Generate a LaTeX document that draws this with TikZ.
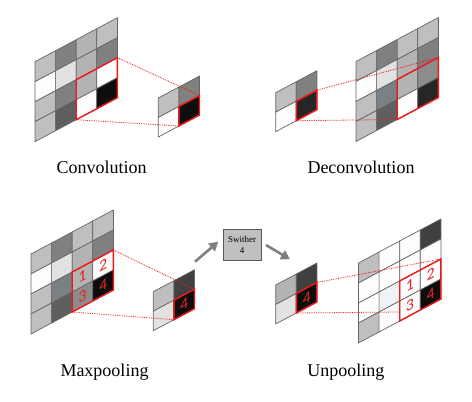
\documentclass[tikz,border=0pt]{standalone}
\usepackage{fontspec}
\setmainfont{Liberation Serif}
\newfontfamily\digfont{Carlito}
\usetikzlibrary{arrows.meta,calc}
\definecolor{lg}{HTML}{BFBFBF}
\definecolor{lgb}{HTML}{B3B3B3}
\definecolor{mg}{HTML}{808080}
\definecolor{mgb}{HTML}{8C8C8C}
\definecolor{vl}{HTML}{E2E2E2}
\definecolor{gb}{HTML}{7A8185}
\definecolor{dg}{HTML}{5F5F5F}
\definecolor{dk}{HTML}{404040}
\definecolor{dkk}{HTML}{262626}
\definecolor{bk}{HTML}{0D0D0D}
\definecolor{wh}{HTML}{FDFDFD}
\definecolor{fa}{HTML}{EEF3F8}
\definecolor{gridc}{HTML}{666666}
\definecolor{boxred}{HTML}{F01818}
\definecolor{digred}{HTML}{E02828}
\definecolor{arrgray}{HTML}{808080}
\definecolor{swfill}{HTML}{C0C0C0}
\definecolor{swline}{HTML}{595959}
\def\gw{20.6}
\def\gs{11}
\newcommand\mkgrid[6]{%
  \foreach \i in {0,...,#5}{\foreach \j in {0,...,#6}{%
    \coordinate (#1-\i-\j) at ({#2+\i*\gw},{#3+\j*#4-\i*\gs});}}}
\newcommand\cells[2]{%
  \foreach \i/\j/\c in {#2}{%
    \pgfmathtruncatemacro\ii{\i+1}\pgfmathtruncatemacro\jj{\j+1}%
    \filldraw[cell, fill=\c] (#1-\i-\j) -- (#1-\ii-\j) -- (#1-\ii-\jj) -- (#1-\i-\jj) -- cycle;}}
\newcommand\digits[2]{%
  \foreach \i/\j/\t in {#2}{%
    \pgfmathtruncatemacro\ii{\i+1}\pgfmathtruncatemacro\jj{\j+1}%
    \coordinate (#1-c-\i-\j) at ($(#1-\i-\j)!0.5!(#1-\ii-\jj)$);
    \begin{scope}[shift={(#1-c-\i-\j)}]
      \node[dig, yslant=0.534] (#1-d-\i-\j) at (0,0) {\t};
    \end{scope}}}
\newcommand\rbox[5]{% name i0 j0 i1 j1
  \draw[redbox] (#1-#2-#3) -- (#1-#4-#3) -- (#1-#4-#5) -- (#1-#2-#5) -- cycle;}
\tikzset{
  cell/.style={draw=gridc, line width=0.7pt, line join=round},
  redbox/.style={draw=boxred, line width=1.4pt, line join=miter},
  conn/.style={draw=boxred, densely dotted, line width=0.8pt},
  dig/.style={text=digred, font=\digfont\fontsize{16}{16}\selectfont, inner sep=0pt},
  captxt/.style={font=\fontsize{18}{20}\selectfont, anchor=base, inner sep=0pt},
  swbox/.style={draw=swline, fill=swfill, line width=0.8pt, minimum width=37.7pt,
    minimum height=31.4pt, inner sep=1pt, align=center,
    font=\fontsize{9}{11.5}\selectfont},
  arr/.style={draw=arrgray, line width=2.6pt, -{Triangle[length=9pt,width=10pt]}},
}
\begin{document}
\begin{tikzpicture}[x=1pt,y=-1pt]
\useasboundingbox (0,0) rectangle (472,402);
% ---------- Convolution ----------
\mkgrid{cb}{35}{61.7}{20}{4}{4}
\cells{cb}{0/0/lg,0/1/wh,0/2/lg,0/3/lg,
  1/0/mg,1/1/vl,1/2/mg,1/3/dg,
  2/0/lgb,2/1/lgb,2/2/lgb,2/3/wh,
  3/0/lg,3/1/mg,3/2/wh,3/3/bk}
\rbox{cb}{2}{2}{4}{4}
\mkgrid{cs}{158.3}{98}{19.5}{2}{2}
\cells{cs}{0/0/lg,0/1/wh,1/0/mg,1/1/bk}
\rbox{cs}{1}{1}{2}{2}
\draw[conn] (cb-4-2) -- (cs-2-1);
\draw[conn] (cb-2-4) -- (cs-1-2);
\node[captxt] (capconv) at (101.7,173.3) {Convolution};
% ---------- Deconvolution ----------
\mkgrid{ds}{275.7}{92.7}{19.5}{2}{2}
\cells{ds}{0/0/lg,0/1/wh,1/0/mg,1/1/dkk}
\rbox{ds}{1}{1}{2}{2}
\mkgrid{db}{356}{61.5}{20}{4}{4}
\cells{db}{0/0/lg,0/1/wh,0/2/lg,0/3/lg,
  1/0/mg,1/1/vl,1/2/gb,1/3/dg,
  2/0/lg,2/1/lgb,2/2/lgb,2/3/wh,
  3/0/lg,3/1/mg,3/2/mgb,3/3/dkk}
\rbox{db}{2}{2}{4}{4}
\draw[conn] (ds-2-1) -- (db-4-2);
\draw[conn] (ds-1-2) -- (db-2-4);
\node[captxt] (capdeconv) at (361,173.3) {Deconvolution};
% ---------- Maxpooling ----------
\mkgrid{mb}{31}{254}{20}{4}{4}
\cells{mb}{0/0/lg,0/1/wh,0/2/lg,0/3/lg,
  1/0/mg,1/1/vl,1/2/gb,1/3/dg,
  2/0/lg,2/1/lgb,2/2/lgb,2/3/mgb,
  3/0/lg,3/1/mg,3/2/wh,3/3/bk}
\rbox{mb}{2}{2}{4}{4}
\digits{mb}{2/2/1,3/2/2,2/3/3,3/3/4}
\mkgrid{ms}{153.3}{291.7}{19.5}{2}{2}
\cells{ms}{0/0/lg,0/1/vl,1/0/dk,1/1/bk}
\rbox{ms}{1}{1}{2}{2}
\digits{ms}{1/1/4}
\draw[conn] (mb-4-2) -- (ms-2-1);
\draw[conn] (mb-2-4) -- (ms-1-2);
\node[captxt] (capmax) at (104.5,376.7) {Maxpooling};
% ---------- Switcher ----------
\node[swbox] (sw) at (242.2,245) {Swither\\4};
\coordinate (a1s) at (195,261.7);
\coordinate (a1e) at (218.3,241.7);
\coordinate (a2s) at (266,245);
\coordinate (a2e) at (290,259.3);
\draw[arr] (a1s) -- (a1e);
\draw[arr] (a2s) -- (a2e);
% ---------- Unpooling ----------
\mkgrid{us}{275.7}{285}{19.5}{2}{2}
\cells{us}{0/0/lgb,0/1/vl,1/0/dk,1/1/bk}
\rbox{us}{1}{1}{2}{2}
\digits{us}{1/1/4}
\mkgrid{ub}{358.5}{263}{20}{4}{4}
\cells{ub}{0/0/lg,0/1/wh,0/2/wh,0/3/lg,
  1/0/wh,1/1/wh,1/2/fa,1/3/wh,
  2/0/wh,2/1/wh,2/2/wh,2/3/wh,
  3/0/dk,3/1/wh,3/2/wh,3/3/bk}
\rbox{ub}{2}{2}{4}{4}
\digits{ub}{2/2/1,3/2/2,2/3/3,3/3/4}
\coordinate (ubl) at ($(ub-2-3)!0.55!(ub-2-4)$);
\draw[conn] (us-2-1) -- (ub-4-2);
\draw[conn] (us-1-2) -- (ubl);
\node[captxt] (capunpool) at (345.8,376.7) {Unpooling};
\end{tikzpicture}
\end{document}
